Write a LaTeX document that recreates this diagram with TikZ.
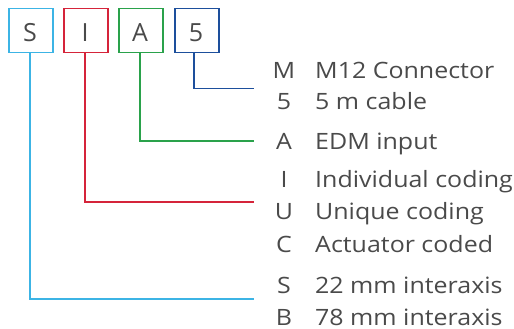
\documentclass[tikz,border=0pt]{standalone}
\usepackage{fontspec}
\setmainfont{Open Sans}
\newfontfamily\descfont{Open Sans}[FakeStretch=1.11]
\definecolor{ccyan}{HTML}{3CB4E5}
\definecolor{cred}{HTML}{D5243A}
\definecolor{cgreen}{HTML}{2AA24B}
\definecolor{cblue}{HTML}{1D4F9C}
\definecolor{ctext}{HTML}{4A4A4A}
\tikzset{
  codebox/.style={draw, line width=1.5pt, minimum width=44pt, minimum height=44pt, inner sep=0pt, anchor=north west},
  boxletter/.style={text=ctext, font=\fontsize{25}{25}\selectfont, inner sep=0pt, anchor=base},
  keyletter/.style={text=ctext, font=\descfont\fontsize{22.5}{22.5}\selectfont, inner sep=0pt, anchor=base},
  desc/.style={text=ctext, font=\descfont\fontsize{22.5}{22.5}\selectfont, inner sep=0pt, anchor=base west},
  lead/.style={line width=1.5pt}
}
\begin{document}
\begin{tikzpicture}[x=1pt,y=-1pt]
\useasboundingbox (0,0) rectangle (514,329);
% boxes
\node[codebox, draw=ccyan] (bS) at (8,8) {};
\node[codebox, draw=cred] (bI) at (63,8) {};
\node[codebox, draw=cgreen] (bA) at (118,8) {};
\node[codebox, draw=cblue] (b5) at (174,8) {};
\node[boxletter] at (30,41.5) {S};
\node[boxletter] at (85,41.5) {I};
\node[boxletter] at (140,41.5) {A};
\node[boxletter] at (196,41.5) {5};
% key letters
\node[keyletter] at (284,78) {M};
\node[keyletter] at (284,110) {5};
\node[keyletter] at (284,149) {A};
\node[keyletter] at (284,187) {I};
\node[keyletter] at (284,219) {U};
\node[keyletter] at (284,252) {C};
\node[keyletter] at (284,293) {S};
\node[keyletter] at (284,325) {B};
% descriptions
\node[desc] at (315,78) {M12 Connector};
\node[desc] at (315,110) {5 m cable};
\node[desc] at (315,149) {EDM input};
\node[desc] at (315,187) {Individual coding};
\node[desc] at (315,219) {Unique coding};
\node[desc] at (315,252) {Actuator coded};
\node[desc] at (315,293) {22 mm interaxis};
\node[desc] at (315,325) {78 mm interaxis};
% leader ends
\coordinate (e5) at (254,88.5);
\coordinate (eA) at (254,141);
\coordinate (eI) at (254,202);
\coordinate (eS) at (254,299);
% leaders
\draw[lead, cblue] (b5.south west) ++(20,0) |- (e5);
\draw[lead, cgreen] (bA.south west) ++(22,0) |- (eA);
\draw[lead, cred] (bI.south west) ++(22,0) |- (eI);
\draw[lead, ccyan] (bS.south west) ++(22,0) |- (eS);
\end{tikzpicture}
\end{document}
